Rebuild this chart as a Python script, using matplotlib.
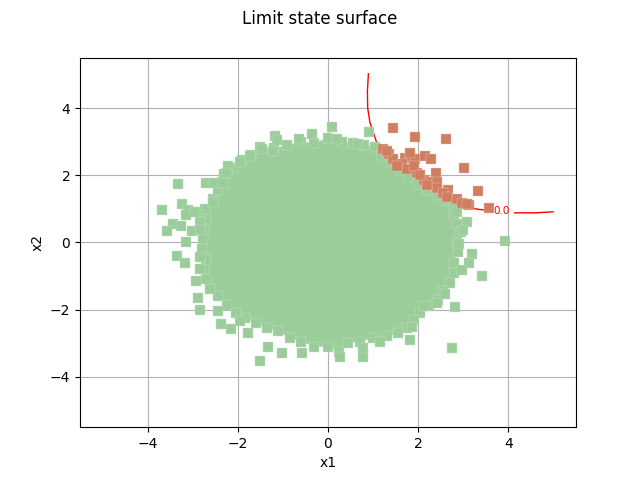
import matplotlib
matplotlib.use("Agg")
import matplotlib.pyplot as plt

# limit state curve g(x1, x2) = 0
curve_a_x = [0.896, 0.874, 0.88, 0.93, 1.08, 1.3, 1.6, 2.0, 2.4, 2.86, 3.30, 3.62]
curve_a_y = [5.02, 4.5, 4.0, 3.57, 2.97, 2.55, 2.15, 1.78, 1.45, 1.16, 0.99, 0.94]
curve_b_x = [4.14, 4.6, 4.99]
curve_b_y = [0.88, 0.88, 0.91]
label_pos = (3.84, 0.93)

# rim of the dense safe-domain cloud (clockwise from the top)
core_x = [-1.5, -1.2, -0.9, -0.6, -0.3, 0.0, 0.3, 0.55, 0.8, 1.05,
          1.2, 1.4, 1.6, 1.8, 2.0, 2.2, 2.45, 2.65, 2.8,
          2.8, 2.85, 2.95, 2.85, 2.88, 2.8, 2.8, 2.7, 2.55, 2.45,
          2.25, 2.05, 1.9, 1.75, 1.55, 1.3, 1.0, 0.7, 0.45, 0.25,
          0.0, -0.3, -0.6, -0.85, -1.1, -1.35, -1.6, -1.85, -2.05, -2.25, -2.45, -2.62,
          -2.7, -2.75, -2.7, -2.8, -2.78, -2.75, -2.7, -2.72, -2.55, -2.45,
          -2.35, -2.3, -2.1, -1.9, -1.7]
core_y = [2.85, 2.8, 2.9, 3.0, 2.95, 3.12, 3.0, 2.95, 2.9, 2.85,
          2.6, 2.4, 2.15, 1.95, 1.75, 1.55, 1.4, 1.25, 1.05,
          0.8, 0.55, 0.3, 0.0, -0.3, -0.6, -0.9, -1.2, -1.45, -1.7,
          -1.9, -2.1, -2.3, -2.55, -2.7, -2.8, -2.85, -2.95, -3.0, -3.25,
          -3.1, -3.1, -2.95, -2.85, -2.65, -2.55, -2.4, -2.25, -2.1, -1.85, -1.6, -1.4,
          -1.1, -0.8, -0.5, -0.2, 0.1, 0.4, 0.7, 1.0, 1.3, 1.55,
          1.8, 2.05, 2.2, 2.45, 2.6]

# safe points sticking out of the cloud
safe_x = [-1.18, -1.14, -0.36, 0.09, 0.91, -0.65, 0.19, -1.47, -1.73, -1.23, 0.67, -2.21, -2.25, -1.95,
          -3.33, -2.7, -2.53, -2.33, -3.69, -3.23, -3.1, -2.88, -3.16, -3.44, -3.57, -3.25, -3.02,
          -3.16, -2.55, -2.84, -2.84, -3.35, -3.18, -2.84, -2.93, -2.88, -2.84, -2.84, -2.96,
          -2.44, -2.38, -2.16, -1.77, -1.51, -1.32, -1.03, -0.58, -1.96, 0.27, 0.78, 0.78, 1.16,
          1.82, 1.86, 2.75, 2.82, 2.42, 2.12, 2.6,
          3.42, 3.19, 3.12, 2.97, 2.9, 3.92, 3.08, 2.93, 2.86, 3.0]
safe_y = [3.17, 3.05, 3.24, 3.43, 3.29, 3.08, 3.09, 2.79, 2.57, 2.73, 2.92, 2.27, 2.07, 2.4,
          1.74, 1.76, 1.76, 1.76, 0.96, 1.14, 0.96, 0.91, 0.81, 0.56, 0.35, 0.48, 0.33,
          0.0, 1.2, 0.61, 0.36, -0.39, -0.61, -0.79, -1.16, -1.66, -2.02, -0.44, 0.91,
          -2.05, -2.42, -2.57, -2.7, -3.52, -3.12, -3.3, -3.3, -2.35, -3.4, -3.4, -3.15, -2.95,
          -2.9, -2.53, -3.15, -1.92, -1.8, -1.9, -1.54,
          -0.99, -0.34, -0.62, -0.82, -0.05, 0.03, 0.62, 0.31, 0.91, 0.36]

# failure points
fail_x = [1.45, 1.92, 2.62, 3.02, 3.32, 3.56, 1.21, 1.36, 1.45, 1.71, 1.82, 1.93, 2.16, 2.28,
          1.64, 1.75, 1.53, 1.97, 2.40, 2.12, 2.27, 2.42, 2.42, 2.67, 2.56, 2.86, 2.97, 3.12,
          1.82, 1.90, 2.19, 3.08, 2.64, 1.30, 2.05]
fail_y = [3.39, 3.15, 3.09, 2.22, 1.53, 1.03, 2.79, 2.62, 2.47, 2.52, 2.57, 2.47, 2.57, 2.47,
          2.32, 2.17, 2.27, 2.07, 2.07, 1.86, 1.81, 1.81, 1.61, 1.56, 1.46, 1.28, 1.18, 1.11,
          2.67, 2.27, 1.71, 1.13, 1.36, 2.72, 2.0]

safe_color = "#9bcd9b"
fail_color = "#cf7f5f"

fig, ax = plt.subplots(figsize=(6.4, 4.8), dpi=100)
ax.set_axisbelow(True)
ax.grid(True)

ax.plot(curve_a_x, curve_a_y, color="red", linewidth=1, zorder=1.8)
ax.plot(curve_b_x, curve_b_y, color="red", linewidth=1, zorder=1.8)
ax.text(label_pos[0], label_pos[1], "0.0", color="red", fontsize=7.5,
        ha="center", va="center", zorder=1.8)

ax.fill(core_x, core_y, color=safe_color, linewidth=0, zorder=2)
ax.scatter(core_x, core_y, marker="s", s=44, color=safe_color,
           edgecolors="#c4e3c4", linewidths=0.3, zorder=2.05)
ax.scatter(safe_x, safe_y, marker="s", s=44, color=safe_color,
           edgecolors="#c4e3c4", linewidths=0.3, zorder=2.1)
ax.scatter(fail_x, fail_y, marker="s", s=44, color=fail_color,
           edgecolors="#e8c4b5", linewidths=0.3, zorder=2.2)

ax.set_xlim(-5.5, 5.5)
ax.set_ylim(-5.5, 5.5)
ax.set_xticks([-4, -2, 0, 2, 4])
ax.set_yticks([-4, -2, 0, 2, 4])
ax.set_xlabel("x1")
ax.set_ylabel("x2")
fig.suptitle("Limit state surface")

fig.savefig("out.png", dpi=100)
